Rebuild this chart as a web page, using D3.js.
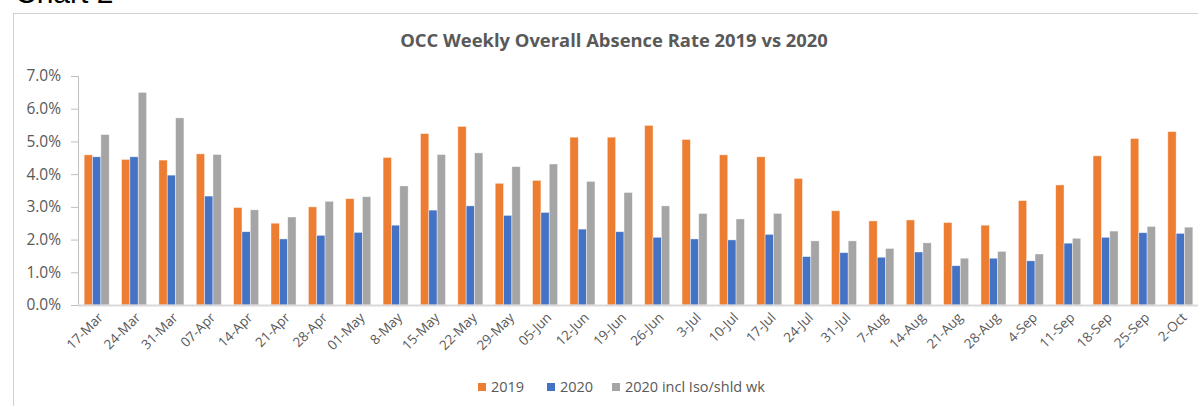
<!DOCTYPE html>
<html>
<head>
<meta charset="utf-8">
<script src="https://cdn.jsdelivr.net/npm/d3@7"></script>
<style>
  body { margin: 0; background: #fff; }
  svg { display: block; font-family: "Open Sans", sans-serif; }
</style>
</head>
<body>
<svg id="vis" width="1198" height="406"></svg>
<script>
'use strict';

var weeks = ['17-Mar', '24-Mar', '31-Mar', '07-Apr', '14-Apr', '21-Apr', '28-Apr', '01-May', '8-May', '15-May',
    '22-May', '29-May', '05-Jun', '12-Jun', '19-Jun', '26-Jun', '3-Jul', '10-Jul', '17-Jul', '24-Jul',
    '31-Jul', '7-Aug', '14-Aug', '21-Aug', '28-Aug', '4-Sep', '11-Sep', '18-Sep', '25-Sep', '2-Oct'];

var rate2019 = [4.59, 4.45, 4.43, 4.62, 2.98, 2.50, 3.00, 3.25, 4.51, 5.24,
    5.46, 3.72, 3.81, 5.13, 5.13, 5.49, 5.06, 4.59, 4.53, 3.87,
    2.88, 2.57, 2.60, 2.52, 2.44, 3.19, 3.67, 4.56, 5.09, 5.30];

var rate2020 = [4.53, 4.53, 3.97, 3.33, 2.24, 2.02, 2.13, 2.22, 2.44, 2.90,
    3.03, 2.74, 2.83, 2.32, 2.24, 2.07, 2.02, 1.99, 2.16, 1.48,
    1.60, 1.46, 1.62, 1.20, 1.43, 1.35, 1.89, 2.07, 2.21, 2.19];

var rate2020Iso = [5.21, 6.50, 5.72, 4.60, 2.91, 2.69, 3.17, 3.31, 3.64, 4.60,
    4.65, 4.23, 4.31, 3.78, 3.44, 3.03, 2.80, 2.63, 2.80, 1.96,
    1.96, 1.73, 1.90, 1.43, 1.64, 1.56, 2.04, 2.26, 2.40, 2.38];

var seriesNames = ['2019', '2020', '2020 incl Iso/shld wk'];
var yTicks = [0, 1, 2, 3, 4, 5, 6, 7];

var colors = ['#ED7D31', '#4472C4', '#A5A5A5'];
var textColor = '#595959';

var svg = d3.select('#vis');

// page heading, mostly cut off at the top
svg.append('text')
    .attr('x', 15)
    .attr('y', 3)
    .style('font-family', '"Liberation Sans", Arial, sans-serif')
    .style('font-size', '30px')
    .attr('fill', '#000')
    .text('Chart 2');

// chart frame
svg.append('rect')
    .attr('x', 13.5)
    .attr('y', 13.5)
    .attr('width', 1300)
    .attr('height', 500)
    .attr('fill', 'none')
    .attr('stroke', '#d0d0d0')
    .attr('stroke-width', 1);

svg.append('text')
    .attr('x', 614)
    .attr('y', 47)
    .attr('text-anchor', 'middle')
    .style('font-size', '18.4px')
    .style('font-weight', 'bold')
    .attr('fill', textColor)
    .text('OCC Weekly Overall Absence Rate 2019 vs 2020');

var plotLeft = 78, plotRight = 1199, plotTop = 76, plotBottom = 305;

var x = d3.scaleBand().domain(weeks).range([plotLeft, plotRight]).paddingInner(0.33).paddingOuter(0.165);
var xs = d3.scaleBand().domain(d3.range(3)).range([0, x.bandwidth()]);
var y = d3.scaleLinear().domain([0, 7]).range([plotBottom, plotTop]);

// y axis
var yAxis = svg.append('g')
    .attr('transform', 'translate(' + plotLeft + ',0)')
    .call(d3.axisLeft(y).tickValues(yTicks).tickSize(7).tickPadding(10)
        .tickFormat(function (d) { return d.toFixed(1) + '%'; }));
yAxis.select('.domain').attr('stroke', '#bfbfbf');
yAxis.selectAll('.tick line').attr('stroke', '#bfbfbf');
yAxis.selectAll('.tick text')
    .attr('fill', textColor)
    .style('font-size', '15.5px')
    .style('font-family', '"Open Sans", sans-serif');

// bars
var allSeries = [rate2019, rate2020, rate2020Iso];
var groups = svg.append('g').selectAll('g')
    .data(weeks)
    .enter().append('g')
    .attr('transform', function (d) { return 'translate(' + x(d) + ',0)'; });

groups.selectAll('rect')
    .data(function (d, i) { return allSeries.map(function (s, k) { return { k: k, v: s[i] }; }); })
    .enter().append('rect')
    .attr('x', function (d) { return xs(d.k); })
    .attr('y', function (d) { return y(d.v); })
    .attr('width', xs.bandwidth())
    .attr('height', function (d) { return plotBottom - y(d.v); })
    .attr('fill', function (d) { return colors[d.k]; })
    .attr('stroke', '#fff')
    .attr('stroke-opacity', 0.6)
    .attr('stroke-width', 0.7);

// x axis baseline
svg.append('line')
    .attr('x1', plotLeft)
    .attr('x2', 1198)
    .attr('y1', plotBottom + 0.5)
    .attr('y2', plotBottom + 0.5)
    .attr('stroke', '#d9d9d9')
    .attr('stroke-width', 2);

// x labels
svg.append('g').selectAll('text')
    .data(weeks)
    .enter().append('text')
    .attr('transform', function (d) {
        return 'translate(' + (x(d) + x.bandwidth() / 2 + 4) + ',' + (plotBottom + 10) + ') rotate(-45)';
    })
    .attr('text-anchor', 'end')
    .attr('dy', '0.35em')
    .attr('fill', textColor)
    .style('font-size', '13.5px')
    .text(function (d) { return d; });

// legend
var legendX = [478, 547, 612];
var legend = svg.append('g').selectAll('g')
    .data(seriesNames)
    .enter().append('g')
    .attr('transform', function (d, i) { return 'translate(' + legendX[i] + ',387)'; });
legend.append('rect')
    .attr('x', 0)
    .attr('y', -4)
    .attr('width', 8)
    .attr('height', 8)
    .attr('fill', function (d, i) { return colors[i]; });
legend.append('text')
    .attr('x', 13)
    .attr('dy', '0.35em')
    .attr('fill', textColor)
    .style('font-size', '14.5px')
    .text(function (d) { return d; });
</script>
</body>
</html>
